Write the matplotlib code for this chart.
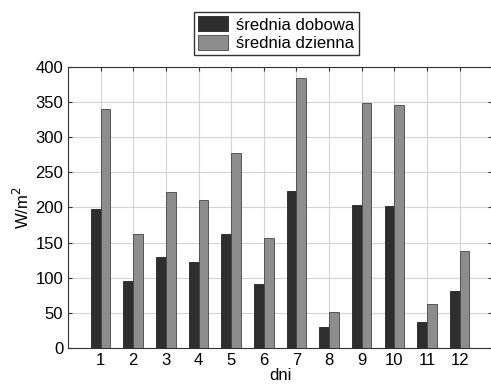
"""
Daily mean vs daytime mean irradiance, 12 days
"""
import numpy as np

import matplotlib

matplotlib.use("Agg")
import matplotlib.pyplot as plt  # noqa:E402

plt.rcParams["font.family"] = ["Liberation Sans", "DejaVu Sans"]

days = [1, 2, 3, 4, 5, 6, 7, 8, 9, 10, 11, 12]
mean_daily = [198, 95, 129, 123, 163, 91, 224, 30, 203, 202, 37, 81]
mean_daytime = [340, 162, 222, 210, 278, 156, 384, 52, 349, 346, 63, 138]
series_labels = ["średnia dobowa", "średnia dzienna"]
y_ticks = [0, 50, 100, 150, 200, 250, 300, 350, 400]


def main():
    fig = plt.figure(figsize=(4.91, 3.85), dpi=100)
    ax = fig.add_axes([0.1385, 0.0953, 0.864, 0.7315])

    x = np.array(days)
    width = 0.3
    ax.bar(x - width / 2, mean_daily, width, color="#2e2e2e",
           edgecolor="#222222", linewidth=0.6, label=series_labels[0], zorder=3)
    ax.bar(x + width / 2, mean_daytime, width, color="#8d8d8d",
           edgecolor="#444444", linewidth=0.6, label=series_labels[1], zorder=3)

    ax.set_xlim(0, 13)
    ax.set_ylim(0, 400)
    ax.set_xticks(days)
    ax.set_yticks(y_ticks)
    ax.tick_params(direction="in", top=True, right=True, labelsize=12,
                   length=3, color="#333333")
    ax.grid(True, color="#d4d4d4", linewidth=0.8, zorder=0)
    for s in ax.spines.values():
        s.set_color("#333333")
        s.set_linewidth(0.8)

    ax.set_xlabel("dni", fontsize=12, labelpad=0)
    ax.set_ylabel("W/m$^2$", fontsize=12, labelpad=2)

    fig.legend(loc="center", bbox_to_anchor=(0.563, 0.912), fontsize=12,
               fancybox=False, edgecolor="#333333", framealpha=1,
               handlelength=1.8, handleheight=1.0, borderpad=0.25,
               labelspacing=0.15, handletextpad=0.5)

    fig.savefig("out.png", dpi=100)
    plt.close(fig)


if __name__ == "__main__":
    main()
